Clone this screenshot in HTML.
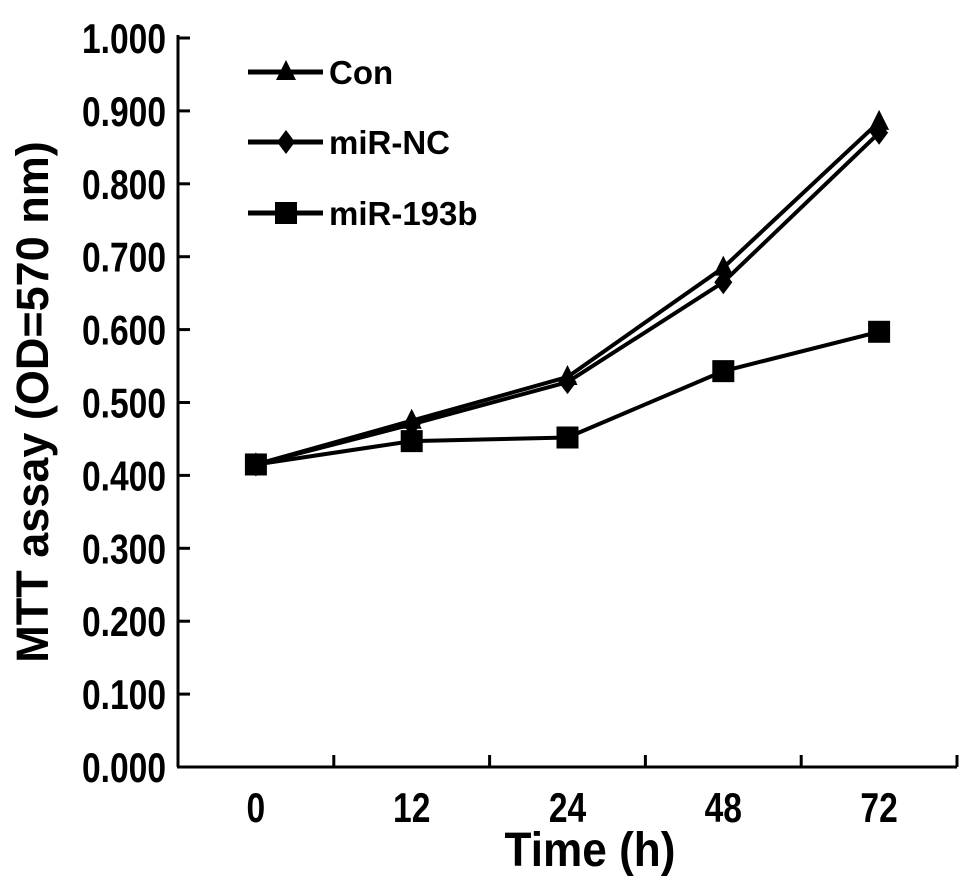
<!DOCTYPE html>
<html><head><meta charset="utf-8"><style>
body{margin:0;background:#fff;}
svg text{font-family:"Liberation Sans",Arial,sans-serif;font-weight:bold;fill:#000;}
</style></head><body>
<svg id="chart" width="969" height="887" xmlns="http://www.w3.org/2000/svg">
<g id="axes"></g>
<g id="series"></g>
<g id="legend"></g>
<text transform="translate(48,402) rotate(-90)" text-anchor="middle" font-size="45">MTT assay (OD=570 nm)</text>
<text x="0" y="0" text-anchor="middle" font-size="48" transform="translate(590,866) scale(0.92,1)">Time (h)</text>
</svg>
<script>
const categories = ["0","12","24","48","72"];
const conValues = [0.415, 0.475, 0.535, 0.685, 0.885];
const ncValues = [0.415, 0.470, 0.528, 0.665, 0.870];
const mirValues = [0.415, 0.447, 0.452, 0.543, 0.597];
const yTicks = [0,0.1,0.2,0.3,0.4,0.5,0.6,0.7,0.8,0.9,1.0];
const yTickLabels = ["0.000","0.100","0.200","0.300","0.400","0.500","0.600","0.700","0.800","0.900","1.000"];
const seriesNames = ["Con","miR-NC","miR-193b"];

const NS="http://www.w3.org/2000/svg";
const x0=178, x1=957, yBase=767, yTop=38;
const band=(x1-x0)/categories.length;
function xPos(i){return x0+band*(i+0.5);}
function yPos(v){return yBase-v*(yBase-yTop);}
function mk(tag,attrs,parent){const e=document.createElementNS(NS,tag);for(const k in attrs)e.setAttribute(k,attrs[k]);parent.appendChild(e);return e;}
const axes=document.getElementById('axes');
let e=mk('line',{x1:x0,y1:yTop-3,x2:x0,y2:yBase,stroke:'#000','stroke-width':3},axes);


e=mk('line',{x1:x0-1,y1:yBase,x2:x1,y2:yBase,stroke:'#000','stroke-width':3},axes);


yTicks.forEach((v,i)=>{
  const y=yPos(v);
  let t=mk('line',{x1:x0,y1:y,x2:x0+12,y2:y,stroke:'#000','stroke-width':3},axes);
  
  
  let l=mk('text',{x:0,y:0,'text-anchor':'end','font-size':42,transform:`translate(166,${y+15}) scale(0.8,1)`},axes);
  l.textContent=yTickLabels[i];
  
  
});
categories.forEach((c,i)=>{
  const xt=x0+band*(i+1);
  let t=mk('line',{x1:xt,y1:yBase,x2:xt,y2:yBase-12,stroke:'#000','stroke-width':3},axes);
  
  
  let l=mk('text',{x:0,y:0,'text-anchor':'middle','font-size':42,transform:`translate(${xPos(i)},${yBase+55}) scale(0.8,1)`},axes);
  l.textContent=c;
  
  
});
function marker(type,x,y,parent){
  if(type==='tri') return mk('polygon',{points:`${x},${y-12} ${x-10},${y+8} ${x+10},${y+8}`,fill:'#000'},parent);
  if(type==='dia') return mk('polygon',{points:`${x},${y-12} ${x+9},${y} ${x},${y+12} ${x-9},${y}`,fill:'#000'},parent);
  return mk('rect',{x:x-11,y:y-11,width:22,height:22,fill:'#000'},parent);
}
const allSeries=[[conValues,'tri','con'],[ncValues,'dia','mir-nc'],[mirValues,'sq','mir-193b']];
const sg=document.getElementById('series');
allSeries.forEach(([vals,m,nm])=>{
  const pts=vals.map((v,i)=>`${xPos(i)},${yPos(v)}`).join(' ');
  let pl=mk('polyline',{points:pts,fill:'none',stroke:'#000','stroke-width':4},sg);
  
  
  vals.forEach((v,i)=>{
    let p=marker(m,xPos(i),yPos(v),sg);
    
    
  });
});
const lg=document.getElementById('legend');
const legY=[72,142,213], mk3=['tri','dia','sq'];
seriesNames.forEach((n,i)=>{
  let ln=mk('line',{x1:248,y1:legY[i],x2:323,y2:legY[i],stroke:'#000','stroke-width':5},lg);
  
  
  let mm=marker(mk3[i],286,legY[i],lg);
  
  
  let t=mk('text',{x:329,y:legY[i]+12,'font-size':33},lg);
  t.textContent=n;
  
  
});
</script>
</body></html>
